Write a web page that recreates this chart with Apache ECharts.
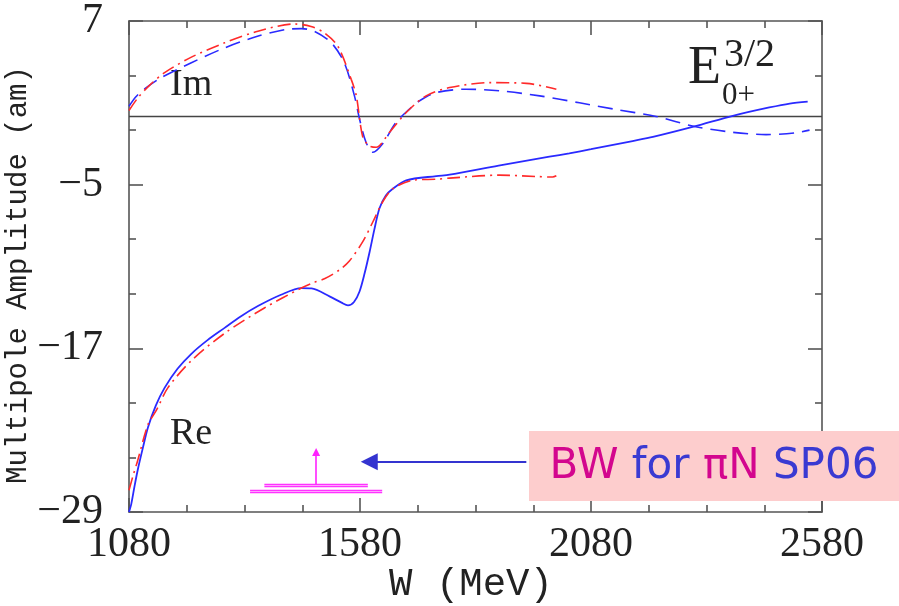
<!DOCTYPE html>
<html><head><meta charset="utf-8">
<script src="https://cdn.jsdelivr.net/npm/echarts@6/dist/echarts.min.js"></script>
<style>html,body{margin:0;padding:0;background:#fff}#c{width:899px;height:606px}</style>
</head><body><div id="c"></div>
<script>
// ---- data (W in MeV, amplitude in am) ----
const imBlue = [[1080,0.75],[1095,1.45],[1113,2.0],[1150,2.85],[1215,3.94],[1287,5.03],[1358,5.88],[1417,6.37],[1453,6.44],[1481,6.25],[1518,5.4],[1546,3.94],[1568,1.51],[1579,-0.19],[1593,-1.89],[1608,-2.62],[1629,-2.0],[1658,-0.43],[1687,0.54],[1709,1.15],[1745,1.75],[1810,2.0],[1882,1.88],[1969,1.51],[2055,1.0],[2130,0.54],[2221,0.0],[2304,-0.73],[2387,-1.16],[2459,-1.33],[2520,-1.21],[2553,-1.0]];
const imRed = [[1080,0.44],[1100,1.4],[1125,2.3],[1157,3.21],[1215,4.35],[1287,5.4],[1359,6.25],[1438,6.78],[1474,6.6],[1503,6.13],[1532,5.15],[1561,2.72],[1572,1.51],[1586,-1.5],[1600,-2.15],[1615,-2.26],[1644,-1.16],[1680,0.29],[1723,1.51],[1774,2.12],[1861,2.48],[1940,2.43],[2005,2.0]];
const reBlue = [[1080,-29],[1085,-28.4],[1092,-27.1],[1099,-25.9],[1110,-24.3],[1121,-22.8],[1138,-21.2],[1157,-19.9],[1185,-18.5],[1215,-17.4],[1250,-16.4],[1287,-15.5],[1320,-14.7],[1359,-13.9],[1409,-13.07],[1453,-12.58],[1475,-12.6],[1514,-13.19],[1540,-13.65],[1554,-13.85],[1567,-13.6],[1579,-12.83],[1590,-11.5],[1601,-9.9],[1611,-8.3],[1622,-6.75],[1636,-5.8],[1651,-5.3],[1680,-4.68],[1745,-4.37],[1774,-4.27],[1880,-3.6],[1990,-2.95],[2033,-2.7],[2080,-2.4],[2170,-1.8],[2214,-1.5],[2304,-0.73],[2387,0.05],[2466,0.66],[2510,0.95],[2549,1.09]];
const reRed = [[1080,-27.4],[1090,-26.2],[1099,-25.2],[1121,-22.6],[1140,-21.5],[1164,-19.9],[1215,-17.9],[1287,-15.9],[1373,-14.04],[1453,-12.58],[1478,-12.2],[1503,-11.9],[1536,-11.24],[1557,-10.6],[1586,-9.18],[1608,-7.72],[1629,-6.27],[1651,-5.3],[1694,-4.68],[1745,-4.6],[1774,-4.52],[1882,-4.3],[1960,-4.4],[1997,-4.44],[2005,-4.35]];
const zeroLine = [[1080,0],[2580,0]];
// BW annotation (pole mass and widths)
const bwMass = 1485;
const bwArrowY = [-26.96, -24.6];
const bwUpper = [1373, 1597, -27.02];
const bwLower = [1342, 1628, -27.49];
const pointerArrow = [[1940,-25.32],[1600,-25.32]];
const xTicks = [1080, 1580, 2080, 2580];
const yTicks = [-29, -17, -5, 7];

const axisColor = '#555';
const lab = (v) => v < 0 ? '\u2212' + Math.abs(v) : String(v);
function xAxisDef(pos, showLabel) {
  return {type:'value', position:pos, min:xTicks[0], max:xTicks[xTicks.length-1], interval:xTicks[1]-xTicks[0],
    axisLine:{show:true, onZero:false, lineStyle:{color:axisColor, width:1.6}},
    axisTick:{show:true, inside:true, length:14, lineStyle:{color:axisColor, width:1.6}},
    minorTick:{show:true, splitNumber:4, length:7, lineStyle:{color:axisColor, width:1.6}},
    splitLine:{show:false}, minorSplitLine:{show:false},
    axisLabel:{show:showLabel, fontFamily:'Liberation Serif', fontSize:42, color:'#222', margin:12, formatter:(v)=>String(v)}};
}
function yAxisDef(pos, showLabel) {
  return {type:'value', position:pos, min:yTicks[0], max:yTicks[yTicks.length-1], interval:yTicks[1]-yTicks[0],
    axisLine:{show:true, onZero:false, lineStyle:{color:axisColor, width:1.6}},
    axisTick:{show:true, inside:true, length:14, lineStyle:{color:axisColor, width:1.6}},
    minorTick:{show:true, splitNumber:3, length:7, lineStyle:{color:axisColor, width:1.6}},
    splitLine:{show:false}, minorSplitLine:{show:false},
    axisLabel:{show:showLabel, fontFamily:'Liberation Serif', fontSize:42, color:'#222', margin:26, formatter:lab}};
}
const bars = [];
[bwUpper, bwLower].forEach(b => {
  bars.push({coords:[[b[0], b[2]+0.09],[b[1], b[2]+0.09]]});
  bars.push({coords:[[b[0], b[2]-0.09],[b[1], b[2]-0.09]]});
});
const chart = echarts.init(document.getElementById('c'));
chart.setOption({
  animation:false,
  grid:{left:129, right:77, top:18, bottom:94},
  xAxis:[xAxisDef('bottom', true), xAxisDef('top', false)],
  yAxis:[yAxisDef('left', true), yAxisDef('right', false)],
  series:[
    {type:'line', data:zeroLine, symbol:'none', lineStyle:{color:'#444', width:1.6}, silent:true},
    {type:'line', data:imBlue, symbol:'none', smooth:0.3, lineStyle:{color:'#2a2aff', width:1.6, type:[15,8]}},
    {type:'line', data:imRed, symbol:'none', smooth:0.3, lineStyle:{color:'#ff2a2a', width:1.6, type:[13,5,2,5]}},
    {type:'line', data:reBlue, symbol:'none', smooth:0.3, lineStyle:{color:'#2a2aff', width:1.8}},
    {type:'line', data:reRed, symbol:'none', smooth:0.3, lineStyle:{color:'#ff2a2a', width:1.6, type:[13,5,2,5]}},
    {type:'lines', coordinateSystem:'cartesian2d', data:bars, symbol:'none', lineStyle:{color:'#ff33ff', width:1.4, opacity:1}},
    {type:'lines', coordinateSystem:'cartesian2d', data:[{coords:[[bwMass,bwArrowY[0]],[bwMass,bwArrowY[1]]]}], symbol:['none','triangle'], symbolSize:8, lineStyle:{color:'#ff22ff', width:1.6, opacity:1}},
    {type:'lines', coordinateSystem:'cartesian2d', data:[{coords:pointerArrow}], symbol:['none','triangle'], symbolSize:17, lineStyle:{color:'#3434d0', width:2.2, opacity:1}, z:20}
  ],
  graphic:[
    {type:'text', x:170, y:85, style:{text:'Im', font:'38px "Liberation Serif"', fill:'#222', verticalAlign:'middle'}},
    {type:'text', x:170, y:434, style:{text:'Re', font:'38px "Liberation Serif"', fill:'#222', verticalAlign:'middle'}},
    {type:'text', x:688, y:69, style:{text:'E', font:'54px "Liberation Serif"', fill:'#222', verticalAlign:'middle'}},
    {type:'text', x:724, y:55, style:{text:'3/2', font:'40px "Liberation Serif"', fill:'#222', verticalAlign:'middle'}},
    {type:'text', x:722, y:96, style:{text:'0+', font:'31px "Liberation Serif"', fill:'#222', verticalAlign:'middle'}},
    {type:'text', x:18, y:275, rotation:Math.PI/2, style:{text:'Multipole Amplitude (am)', font:'29px "Liberation Mono"', fill:'#222', align:'center', verticalAlign:'middle'}},
    {type:'text', x:471, y:585, style:{text:'W (MeV)', font:'39px "Liberation Mono"', fill:'#222', align:'center', verticalAlign:'middle'}},
    {type:'rect', z:50, shape:{x:529, y:431, width:370, height:70}, style:{fill:'#fdcdcd'}},
    {type:'text', z:51, x:714, y:467, style:{text:'{m|BW} {b|for} {m|\u03c0N} {b|SP06}', align:'center', verticalAlign:'middle', font:'42px "DejaVu Sans"',
      rich:{m:{fill:'#d3068e', font:'42px "DejaVu Sans"'}, b:{fill:'#3a3ad2', font:'42px "DejaVu Sans"'}}}}
  ]
});
</script></body></html>
